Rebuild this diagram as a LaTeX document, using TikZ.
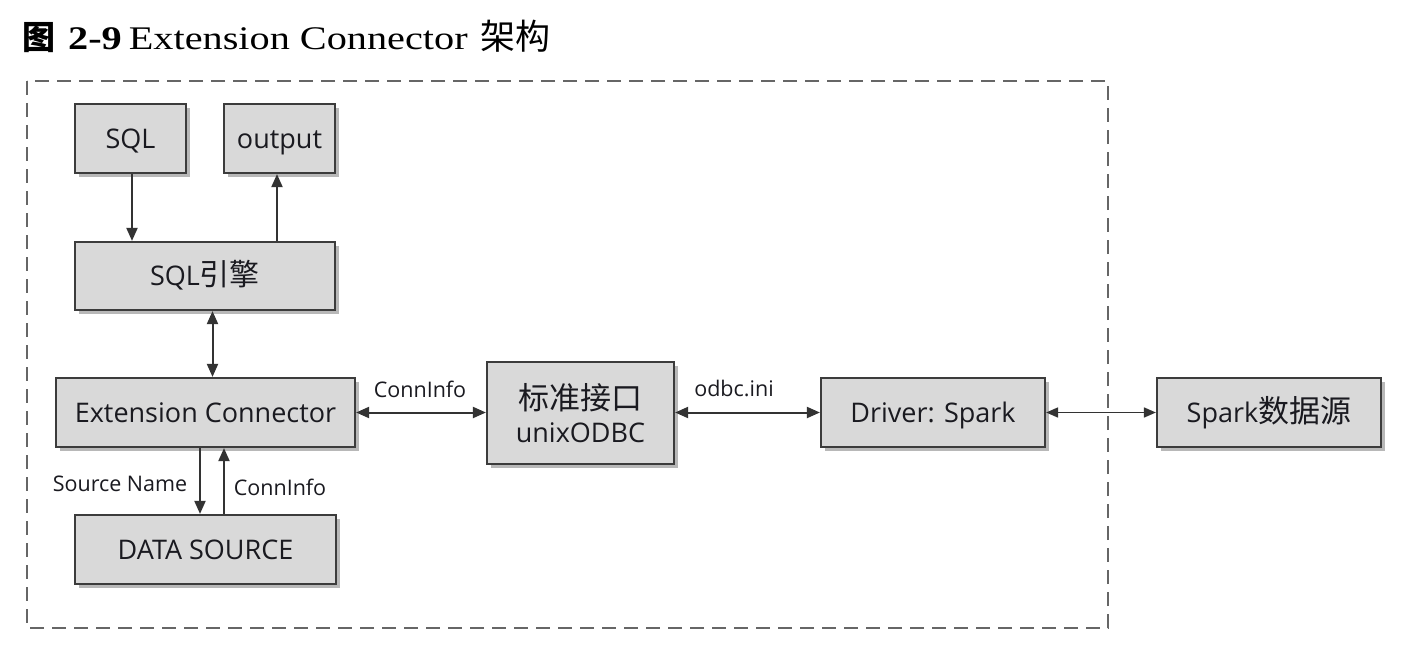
\documentclass[tikz,border=0pt]{standalone}
\usepackage{fontspec}
\newfontfamily\boxfont{Open Sans}
\newfontfamily\cjk{Noto Sans CJK SC}
\newfontfamily\titlefont[FakeStretch=1.22]{Liberation Serif}
\usetikzlibrary{shadows,arrows.meta}
\definecolor{boxfill}{HTML}{D9D9D9}
\definecolor{boxline}{HTML}{3C3C3C}
\definecolor{lineclr}{HTML}{333333}
\definecolor{dashclr}{HTML}{666666}
\definecolor{txt}{HTML}{1A1A20}
\begin{document}
\begin{tikzpicture}[x=1pt,y=-1pt,
  blk/.style={rectangle, draw=boxline, fill=boxfill, line width=2.2pt, inner sep=0pt,
    text=txt, font=\boxfont\fontsize{27}{33}\selectfont, align=center,
    drop shadow={shadow xshift=4pt, shadow yshift=-4pt, fill=black, opacity=0.28}},
  one/.style={text height=19.5pt, text depth=0pt},
  arr/.style={draw=lineclr, line width=2pt, -{Triangle[length=13pt,width=11pt]}},
  darr/.style={draw=lineclr, line width=2pt, {Triangle[length=13pt,width=11pt]}-{Triangle[length=13pt,width=11pt]}},
  tdarr/.style={draw=lineclr, line width=1.7pt, {Triangle[length=12pt,width=10pt]}-{Triangle[length=12pt,width=10pt]}},
  lbl/.style={text=txt, font=\boxfont\fontsize{21.5}{26}\selectfont, inner sep=0pt},
  frame/.style={draw=dashclr, line width=2.5pt, dash pattern=on 14pt off 8pt}
]
\useasboundingbox (0,0) rectangle (1410,658);

% title
\node[anchor=base west, inner sep=0pt, font=\titlefont\fontsize{33}{38}\selectfont] (title) at (22,50)
  {{\cjk\bfseries 图}\hspace{13pt}{\bfseries 2-9}\hspace{7pt}Extension Connector\hspace{13pt}{\cjk\fontsize{35}{38}\selectfont 架构}};

% dashed frame
\draw[frame] (27,81) rectangle (1108,628);

% boxes
\node[blk, one, minimum width=111pt, minimum height=69pt] (sql) at (130.5,138.5) {SQL};
\node[blk, one, minimum width=111pt, minimum height=69pt] (out) at (279.5,138.5) {output};
\node[blk, one, minimum width=260pt, minimum height=68pt] (eng) at (205,276) {SQL{\cjk\fontsize{30}{33}\selectfont 引擎}};
\node[blk, one, minimum width=299pt, minimum height=69pt] (ext) at (205.5,412.5) {Extension Connector};
\node[blk, one, minimum width=261pt, minimum height=69pt] (ds) at (205.5,549.5) {DATA SOURCE};
\node[blk, minimum width=187pt, minimum height=102pt] (odbc) at (580.5,413)
  {{\cjk\fontsize{31}{33}\selectfont 标准接口}\\ unixODBC};
\node[blk, one, minimum width=224pt, minimum height=69pt] (drv) at (933,412.5) {Driver: Spark};
\node[blk, one, minimum width=224pt, minimum height=69pt] (spk) at (1269,412.5) {Spark{\cjk\fontsize{31}{33}\selectfont 数据源}};

% connectors
\draw[arr] ([xshift=1.5pt]sql.south) -- ([xshift=1.5pt]sql.south |- eng.north);
\draw[arr] ([xshift=-2.5pt]out.south |- eng.north) -- ([xshift=-2.5pt]out.south);
\draw[darr] ([xshift=7.5pt]eng.south) -- ([xshift=7.5pt]eng.south |- ext.north);
\draw[arr] ([xshift=-5.5pt]ext.south) -- ([xshift=-5.5pt]ext.south |- ds.north);
\draw[arr] ([xshift=18.5pt]ext.south |- ds.north) -- ([xshift=18.5pt]ext.south);
\draw[darr] (ext.east) -- (ext.east -| odbc.west);
\draw[darr] (odbc.east |- drv.west) -- (drv.west);
\draw[tdarr] (drv.east) -- (spk.west);

% labels
\node[lbl] (l1) at (420,389) {ConnInfo};
\node[lbl] (l2) at (734,388) {odbc.ini};
\node[lbl] (l3) at (120,484) {Source Name};
\node[lbl] (l4) at (280,487) {ConnInfo};
\end{tikzpicture}
\end{document}
